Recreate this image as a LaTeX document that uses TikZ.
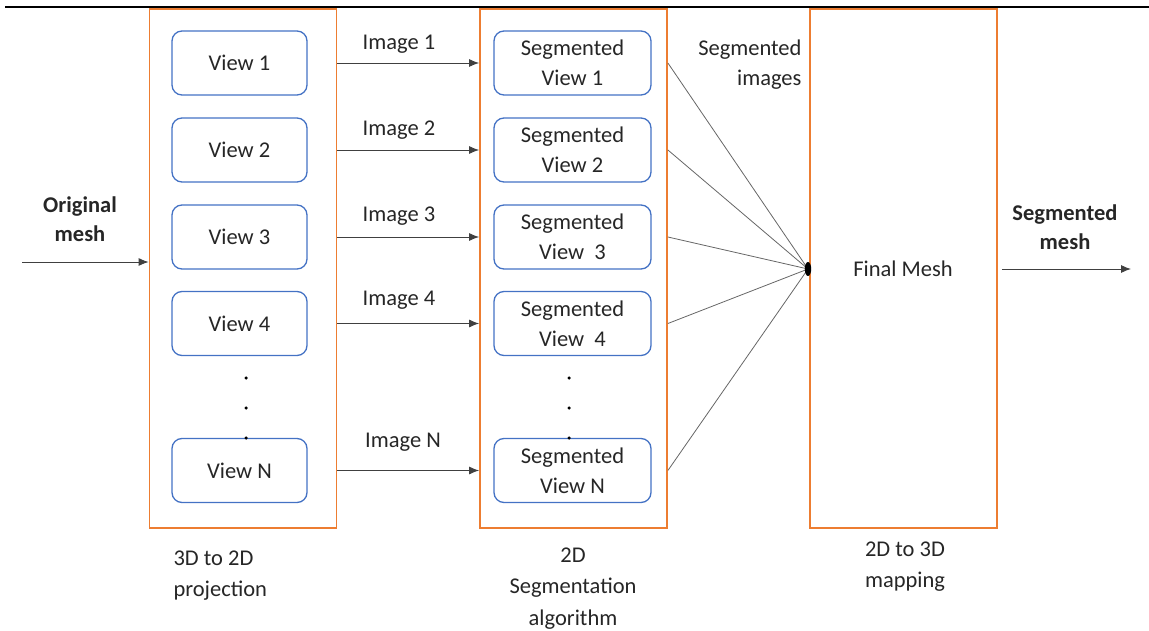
\documentclass[tikz,border=0pt]{standalone}
\usepackage{fontspec}
\setmainfont{Carlito}
\usetikzlibrary{arrows.meta}
\definecolor{orng}{RGB}{237,125,49}
\definecolor{blu}{RGB}{68,114,196}
\definecolor{txt}{RGB}{38,38,38}
\begin{document}
\begin{tikzpicture}[x=1pt,y=-1pt,
  every node/.style={font=\fontsize{22.5}{30}\selectfont,text=txt},
  stage/.style={draw=orng,line width=1.8pt,minimum width=187pt,minimum height=519pt,inner sep=0pt},
  viewbox/.style={draw=blu,line width=1.3pt,rounded corners=10pt,minimum height=64pt,align=center,inner sep=0pt},
  lv/.style={viewbox,minimum width=135pt},
  rv/.style={viewbox,minimum width=157pt},
  arr/.style={draw=black!75,line width=0.9pt,-{Latex[length=10pt,width=8pt]}},
  ln/.style={draw=black!60,line width=0.8pt},
  lbl/.style={align=center},
  bot/.style={font=\fontsize{22.5}{31.5}\selectfont},
  dotn/.style={circle,fill=black,inner sep=0pt,minimum size=3.5pt}
]
\useasboundingbox (0,0) rectangle (1149,631);
\draw[line width=2.4pt] (5,7) -- (1149,7);

\node[stage] (b1) at (243,268.5) {};
\node[stage] (b2) at (573.5,268.5) {};
\node[stage] (b3) at (903.5,268.5) {};

\node[lv] (v1) at (239.5,63) {View 1};
\node[lv] (v2) at (239.5,150) {View 2};
\node[lv] (v3) at (239.5,237) {View 3};
\node[lv] (v4) at (239.5,323.5) {View 4};
\node[lv] (vn) at (239.5,470.5) {View N};

\node[rv] (s1) at (572.5,63) {Segmented\\View 1};
\node[rv] (s2) at (572.5,150) {Segmented\\View 2};
\node[rv] (s3) at (572.5,237) {Segmented\\View~~3};
\node[rv] (s4) at (572.5,323.5) {Segmented\\View~~4};
\node[rv] (sn) at (572.5,470.5) {Segmented\\View N};

\node[dotn] (d1) at (246,378) {};
\node[dotn] (d2) at (246,408) {};
\node[dotn] (d3) at (246,438) {};
\node[dotn] (e1) at (569,378) {};
\node[dotn] (e2) at (569,408) {};
\node[dotn] (e3) at (569,438) {};

\foreach \v in {v1,v2,v3,v4,vn} {
  \draw[arr] (\v.east -| b1.east) -- (\v.east -| b2.west);
}
\node (i1) at (399,44) {Image 1};
\node (i2) at (399,130) {Image 2};
\node (i3) at (399,216) {Image 3};
\node (i4) at (399,300) {Image 4};
\node (iN) at (403,442) {Image N};

\coordinate (hub) at (808,269);
\foreach \s in {s1,s2,s3,s4,sn} {
  \draw[ln] (\s.east -| b2.east) -- (hub);
}
\fill[black] (hub) ellipse (3.2pt and 7pt);

\node[align=right,anchor=north east] (segimg) at (805,36) {Segmented\\images};
\node (fm) at (903,269) {Final Mesh};

\coordinate (inS) at (22,262);
\draw[arr] (inS) -- (inS -| b1.west);
\node[lbl,font=\fontsize{22.5}{29}\bfseries\selectfont] (om) at (80,219) {Original\\mesh};

\coordinate (outE) at (1131,269);
\draw[arr] (b3.east |- outE) ++(4,0) -- (outE);
\node[lbl,font=\fontsize{22.5}{29}\bfseries\selectfont] (sm) at (1065,227) {Segmented\\mesh};

\node[bot,align=left,anchor=north west] (p1) at (170,547) {3D to 2D\\projection};
\node[bot,lbl,anchor=north] (p2) at (573,544) {2D\\Segmentation\\algorithm};
\node[bot,lbl,anchor=north] (p3) at (905,538) {2D to 3D\\mapping};
\end{tikzpicture}
\end{document}
